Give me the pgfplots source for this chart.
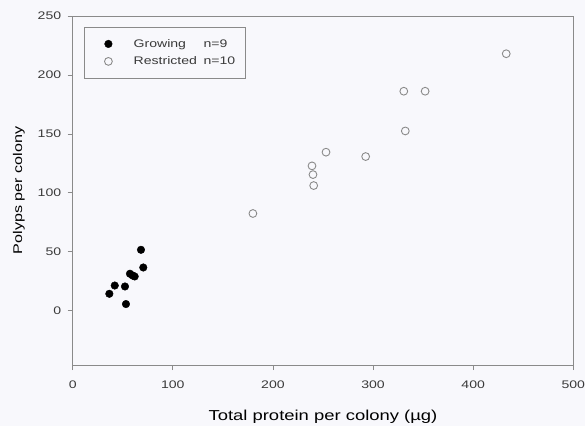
\documentclass[border=0pt]{standalone}
\usepackage{pgfplots}
\pgfplotsset{compat=1.18}
\usepackage{fontspec}
\setmainfont{Liberation Sans}[FakeStretch=1.28]
\definecolor{bg}{HTML}{F8F8FC}
\definecolor{axgray}{HTML}{8A8A8A}
\definecolor{txt}{HTML}{3A3A3A}
\begin{document}
\begin{tikzpicture}[x=1pt,y=1pt]
\fill[bg] (-72.7,-61) rectangle (512.3,365);
\begin{axis}[
  at={(0,0)}, anchor=south west,
  width=500.6pt, height=349pt, scale only axis,
  xmin=0, xmax=500, ymin=-46, ymax=250,
  xtick={0,100,...,500}, ytick={0,50,...,250},
  tick align=outside, xtick pos=bottom, ytick pos=left,
  major tick length=5pt,
  axis line style={axgray, line width=0.8pt},
  tick style={axgray, line width=0.8pt},
  tick label style={font=\fontsize{11}{13}\selectfont, text=txt},
  xticklabel style={yshift=-7pt},
  yticklabel style={xshift=-3pt},
  label style={font=\fontsize{14.4}{17}\selectfont, text=black},
  xlabel style={yshift=-15pt},
  ylabel style={yshift=6pt, font=\fontsize{12.6}{15}\selectfont},
  /pgf/number format/assume math mode=true,
  xlabel={Total protein per colony (µg)},
  ylabel={Polyps per colony},
  axis background/.style={fill=bg},
  legend cell align=left,
  legend image code/.code={\path (0pt,0pt) (30pt,0pt);\draw[mark repeat=2,mark phase=2,#1] plot coordinates {(0pt,0pt)(16pt,0pt)(30pt,0pt)};},
  legend style={at={(rel axis cs:0.0226,0.9685)}, anchor=north west,
    draw=axgray, fill=bg, font=\fontsize{11}{13}\selectfont, text=txt,
    inner xsep=8pt, inner ysep=10pt, row sep=4pt},
]
\addplot[only marks, mark=*, mark size=3.8pt, mark options={fill=black, draw=black}]
  coordinates {(36.6,14.4) (42,21.4) (52.2,20.6) (53.2,5.7) (57.2,31.4) (59.9,29.9) (61.9,29.1) (70.5,36.7) (68.2,51.7)};
\addlegendentry{\hspace*{9pt}\makebox[70pt][l]{Growing}n=9}
\addplot[only marks, mark=o, mark size=3.9pt, mark options={draw=axgray, line width=0.9pt}]
  coordinates {(180,82.5) (239,122.9) (240,115.5) (240.7,106.2) (253,134.5) (292.6,130.8) (330.7,186.2) (332.2,152.5) (352,186.2) (433,218)};
\addlegendentry{\hspace*{9pt}\makebox[70pt][l]{Restricted}n=10}
\end{axis}
\pgfresetboundingbox
\path (-72.7,-61) rectangle (512.3,365);
\end{tikzpicture}
\end{document}
